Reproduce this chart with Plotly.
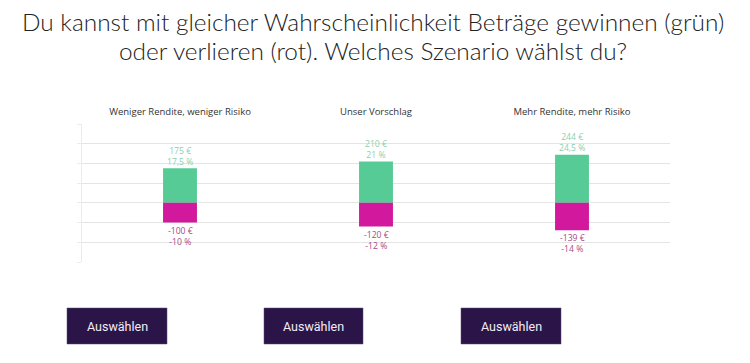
import plotly.graph_objects as go

# ---- data ----
scenarios = ["Weniger Rendite, weniger Risiko", "Unser Vorschlag", "Mehr Rendite, mehr Risiko"]
gain_eur = [175, 210, 244]
gain_pct = [17.5, 21, 24.5]
loss_eur = [-100, -120, -139]
loss_pct = [-10, -12, -14]
y_ticks = [-300, -200, -100, 0, 100, 200, 300, 400]
title_lines = ["Du kannst mit gleicher Wahrscheinlichkeit Beträge gewinnen (grün)",
               "oder verlieren (rot). Welches Szenario wählst du?"]
button_label = "Auswählen"


def fmt_num(v):
    return ("%g" % v).replace(".", ",")


gain_text = [f"{e} €<br>{fmt_num(p)} %" for e, p in zip(gain_eur, gain_pct)]
loss_text = [f"{e} €<br>{fmt_num(p)} %" for e, p in zip(loss_eur, loss_pct)]

# the page body has an 8px margin; work in page pixels and convert
OFF = 8
W, H = 750 - OFF, 363 - OFF
PL, PR, PT, PB = 82, 670, 124, 262  # plot area in page pixels
ML, MR, MT, MB = PL - OFF, (750 - PR), PT - OFF, (363 - PB)
PW, PH = PR - PL, PB - PT


def px_x(x):
    return (x - PL) / PW


def px_y(y):
    return (PB - y) / PH


fig = go.Figure()
fig.add_trace(go.Bar(x=scenarios, y=gain_eur, marker=dict(color="#56CB95", line=dict(width=0)),
                     hoverinfo="skip", name="Gewinn"))
fig.add_trace(go.Bar(x=scenarios, y=loss_eur, marker=dict(color="#D2189C", line=dict(width=0)),
                     hoverinfo="skip", name="Verlust"))

# value labels
GAIN_FONT = dict(family="Open Sans", size=8.6, color="#8CCFAD")
LOSS_FONT = dict(family="Open Sans", size=8.6, color="#A84A88")
for xc, v, t in zip(scenarios, gain_eur, gain_text):
    fig.add_annotation(x=xc, y=v, text=t, showarrow=False, xanchor="center", yanchor="middle",
                       yshift=12, borderpad=0, font=GAIN_FONT)
for xc, v, t in zip(scenarios, loss_eur, loss_text):
    fig.add_annotation(x=xc, y=v, text=t, showarrow=False, xanchor="center", yanchor="middle",
                       yshift=-13.6, borderpad=0, font=LOSS_FONT)

fig.update_layout(
    width=W, height=H,
    margin=dict(l=ML, r=MR, t=MT, b=MB),
    paper_bgcolor="white", plot_bgcolor="white",
    barmode="relative", bargap=0.827,
    showlegend=False,
    xaxis=dict(side="top", showgrid=False, zeroline=False, showline=False, ticks="",
               ticklabelstandoff=6,
               tickfont=dict(family="Open Sans", size=9.5, color="#333333"),
               fixedrange=True),
    yaxis=dict(range=[-300, 400], tickvals=y_ticks, showticklabels=False,
               showgrid=True, gridcolor="#E4E4E4", gridwidth=1,
               zeroline=True, zerolinecolor="#E4E4E4", zerolinewidth=1,
               showline=True, linecolor="#EBEBEB", linewidth=1,
               ticks="outside", ticklen=4, tickcolor="#EBEBEB", fixedrange=True),
)

# title (two lines)
for yc, line in zip([21, 50], title_lines):
    fig.add_annotation(text=line, xref="paper", yref="paper",
                       x=px_x(373), y=px_y(yc), xanchor="center", yanchor="middle",
                       showarrow=False, align="center",
                       font=dict(family="Lato", size=24.4, color="#222222", weight=300))

# buttons
buttons = [(67, 167), (264, 363), (461, 561)]
for x0, x1 in buttons:
    fig.add_shape(type="rect", xref="paper", yref="paper",
                  x0=px_x(x0), x1=px_x(x1), y0=px_y(344), y1=px_y(308),
                  fillcolor="#2B1548", line=dict(color="#5A4A70", width=0.5), layer="above")
    fig.add_annotation(text=button_label, xref="paper", yref="paper",
                       x=px_x((x0 + x1) / 2), y=px_y(326), xanchor="center", yanchor="middle",
                       showarrow=False, font=dict(family="Roboto", size=12.5, color="#F2ECF6"))

fig.write_html("out.html")
